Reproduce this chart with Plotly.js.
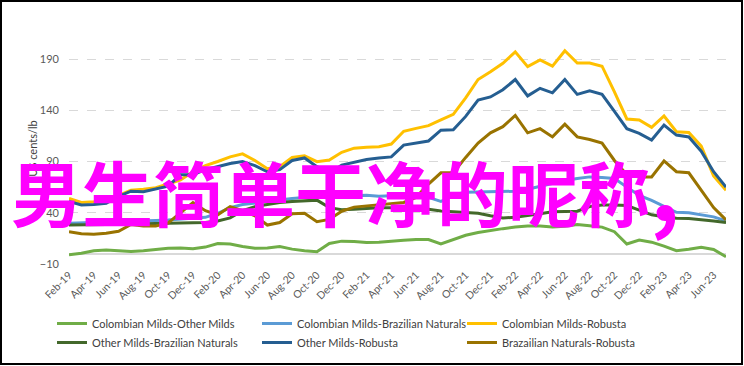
<!DOCTYPE html>
<html>
<head>
<meta charset="utf-8">
<script src="https://cdn.plot.ly/plotly-3.0.1.min.js"></script>
<style>
html,body{margin:0;padding:0;background:#fff;}
#chart{width:744px;height:366px;}
</style>
</head>
<body>
<div id="chart"></div>
<script>
const months = ["Feb-19","Mar-19","Apr-19","May-19","Jun-19","Jul-19","Aug-19","Sep-19","Oct-19","Nov-19","Dec-19",
"Jan-20","Feb-20","Mar-20","Apr-20","May-20","Jun-20","Jul-20","Aug-20","Sep-20","Oct-20","Nov-20","Dec-20",
"Jan-21","Feb-21","Mar-21","Apr-21","May-21","Jun-21","Jul-21","Aug-21","Sep-21","Oct-21","Nov-21","Dec-21",
"Jan-22","Feb-22","Mar-22","Apr-22","May-22","Jun-22","Jul-22","Aug-22","Sep-22","Oct-22","Nov-22","Dec-22",
"Jan-23","Feb-23","Mar-23","Apr-23","May-23","Jun-23","Jul-23"];

const tickLabels = ["Feb-19","Apr-19","Jun-19","Aug-19","Oct-19","Dec-19","Feb-20","Apr-20","Jun-20","Aug-20","Oct-20","Dec-20",
"Feb-21","Apr-21","Jun-21","Aug-21","Oct-21","Dec-21","Feb-22","Apr-22","Jun-22","Aug-22","Oct-22","Dec-22",
"Feb-23","Apr-23","Jun-23"];

const colMildsOtherMilds = [-1,0.5,3,3.7,3,2.3,3,4,5.4,5.5,5,6.5,10,9.5,7,5.3,5.7,7,4.5,3,2,10,12.3,12,11,11.3,12.5,13.2,14,13.8,9.5,14,18,20.8,23,24.5,26,27,27,26,26.8,28.6,27.4,26,21.5,9.5,13.3,11.3,7.5,3,4.4,6.3,4.2,-3];

const colMildsBrazNat = [29.7,30,30.3,30.6,31,31.5,32,32.5,33,33.7,34.5,35.5,39.5,45,48,49.5,51.5,53,54,55,55.5,55.7,56,56.8,57,56,56.5,57,56.2,55,51,57.5,60,60.3,60.6,60.8,61,63,66,69,71.5,73.5,75,74.5,73.5,65,57,52,46,40.5,40,38,36,32];

const colMildsRobusta = [54,50,50.8,52,57,62,63,64.5,68,72,80,86,90,94.5,97.5,91,83,85,94,95.5,89.8,91.5,99,103,104,104.5,107,119.5,122.3,125,130.5,136,152,170,177.6,185.8,197,182.5,189,183,198,186,186,183,158,131.5,130.5,123.3,134.4,119,118.4,105,76,62];

const otherMildsBrazNat = [28,28,28.3,28.5,28.8,29,29.3,29.5,29.7,30,30,30.5,32,35,42,46,48,50,51,51.8,52.3,45,43,43.5,44.3,45,45,44.5,44.3,43.5,41.7,41,40.5,39.5,37,35,35.5,37,39,41,41.5,41.5,46,47.5,47.5,47,42.5,38,36,34.6,34.5,33.5,32,30.5];

const otherMildsRobusta = [51,47.5,48,49.2,56,61,60.5,63,66,77,77,82,85,88,90,86,80,82,91,93.5,85,78.5,86.5,89.5,92,93.5,94.5,106,107.7,110,120.5,121,134,150,153,160,170,154,161.4,157,170,155.5,159,155.5,139,122,117.5,111,125.6,115.8,114,100,80,65];

const brazNatRobusta = [21.5,19.5,19,20,22,28.5,27,27,30,40,50,42,38,46,42,37,28,30.5,39,39.5,31.3,33.5,41.5,45.5,46.5,47.5,48.8,50,55,68,79,79,94,108,118,124,135,118,122,114,126.5,114,111.5,108,91,77,75,75,90.5,80,79,62,45,33];

const seriesNames = ["Colombian Milds-Other Milds","Colombian Milds-Brazilian Naturals","Colombian Milds-Robusta",
"Other Milds-Brazilian Naturals","Other Milds-Robusta","Brazailian Naturals-Robusta"];
const seriesValues = [colMildsOtherMilds,colMildsBrazNat,colMildsRobusta,otherMildsBrazNat,otherMildsRobusta,brazNatRobusta];
const seriesColors = ["#70AD47","#5B9BD5","#FFC000","#43682B","#255E91","#997300"];

const traces = seriesNames.map((n,i)=>({
  type:'scatter', mode:'lines', name:n, x:months, y:seriesValues[i],
  line:{color:seriesColors[i], width:3}
}));

const L=69, R=18, T=33, B=102, W=744, H=366;
const pw=W-L-R, ph=H-T-B;
const px=v=>(v-L)/pw, py=v=>(H-B-v)/ph;
const yMax = 190 + (59-T)/1.025;

const layout = {
  width:W, height:H,
  margin:{l:L,r:R,t:T,b:B,pad:0,autoexpand:false},
  paper_bgcolor:'#fff', plot_bgcolor:'#fff',
  font:{family:'Lato, "Open Sans", sans-serif', color:'#404040'},
  showlegend:true,
  xaxis:{type:'category', range:[0,months.length-1], tickmode:'array', tickvals:tickLabels, ticktext:tickLabels,
    tickangle:-45, tickfont:{size:10.5,color:'#595959'}, showgrid:false, zeroline:false, showline:false, ticks:'', ticklabelstandoff:2},
  yaxis:{range:[-10,yMax], tick0:-10, dtick:50, tickmode:'linear', gridcolor:'#D9D9D9', griddash:'dash', gridwidth:1,
    zeroline:true, zerolinecolor:'#D9D9D9', zerolinewidth:1.5, showline:false, ticks:'', ticklabelstandoff:9,
    tickfont:{size:11,color:'#595959'}, automargin:true,
    title:{text:'US cents/lb', font:{size:11,color:'#404040'}, standoff:0}},
  legend:{orientation:'h', x:px(52), xanchor:'left', y:py(309), yanchor:'top', entrywidth:160, entrywidthmode:'pixels',
    font:{size:11,color:'#404040'}, bgcolor:'rgba(0,0,0,0)', tracegroupgap:0},
  annotations:[{text:'男生简单干净的昵称<span style="font-size:92px">,</span>', xref:'paper', yref:'paper', x:px(9), xanchor:'left', y:py(180), yanchor:'middle',
    showarrow:false, font:{family:'"Noto Sans CJK SC", sans-serif', size:71, color:'#FF00FF', weight:'bold'}}],
  shapes:[{type:'rect', xref:'paper', yref:'paper', x0:px(1), x1:px(742), y0:py(364), y1:py(1), line:{color:'#000', width:2}, fillcolor:'rgba(0,0,0,0)', layer:'above'}]
};

Plotly.newPlot('chart', traces, layout, {displayModeBar:false, staticPlot:true});
</script>
</body>
</html>
